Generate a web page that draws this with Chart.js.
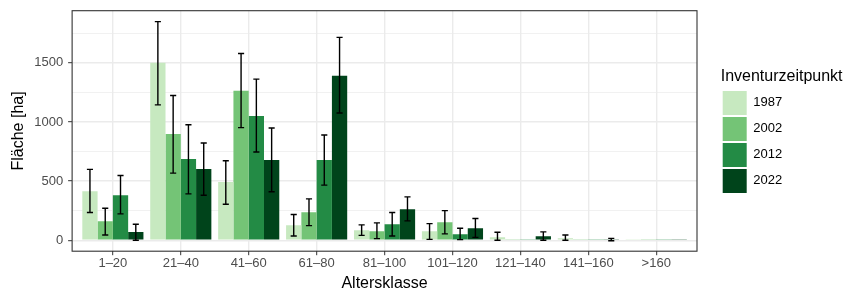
<!DOCTYPE html>
<html><head><meta charset="utf-8">
<script src="https://cdn.jsdelivr.net/npm/chart.js@4/dist/chart.umd.min.js"></script>
<style>html,body{margin:0;padding:0;background:#fff}#wrap{width:848px;height:288px}</style>
</head><body><div id="wrap"><canvas id="c" width="848" height="288"></canvas></div>
<script>
const categories = ['1–20','21–40','41–60','61–80','81–100','101–120','121–140','141–160','>160'];
const years = ['1987','2002','2012','2022'];
const colors = ['#C7E9C0','#74C476','#238B45','#00441B'];

const v1987 = [415, 1500, 492, 127, 85, 76, 25, 17, 9];
const v2002 = [161, 898, 1263, 237, 76, 153, 9, 9, 9];
const v2012 = [381, 686, 1051, 678, 136, 51, 9, 9, 9];
const v2022 = [70, 602, 678, 1390, 263, 102, 34, 8, 9];

const lo1987 = [235, 1144, 305, 37, 42, 8, 0, 0, null];
const hi1987 = [599, 1848, 672, 218, 130, 141, 68, 45, null];
const lo2002 = [45, 568, 952, 124, 14, 54, null, null, null];
const hi2002 = [271, 1223, 1579, 350, 147, 251, null, null, null];
const lo2012 = [223, 392, 746, 466, 37, 6, null, null, null];
const hi2012 = [548, 977, 1362, 890, 235, 102, null, null, null];
const lo2022 = [0, 381, 410, 1076, 164, 25, 0, -4, null];
const hi2022 = [136, 822, 949, 1715, 367, 184, 71, 16, null];

const yMajorTicks = [0, 500, 1000, 1500];
const yMinorTicks = [250, 750, 1250, 1750];

const values = [v1987, v2002, v2012, v2022];
const lows = [lo1987, lo2002, lo2012, lo2022];
const highs = [hi1987, hi2002, hi2012, hi2022];

Chart.defaults.font.family = '"Liberation Sans", Arial, sans-serif';

const datasets = years.map((y, k) => ({
  label: y,
  data: values[k].map((v, i) => ({x: i + 1, y: v})),
  errLo: lows[k],
  errHi: highs[k],
  backgroundColor: colors[k],
  borderWidth: 0,
  categoryPercentage: 0.9,
  barPercentage: 1.0
}));

const errorBars = {
  id: 'errorBars',
  afterDatasetsDraw(chart) {
    const ctx = chart.ctx, ys = chart.scales.y;
    ctx.save();
    ctx.strokeStyle = '#000';
    ctx.lineWidth = 1.4;
    chart.data.datasets.forEach((ds, di) => {
      const meta = chart.getDatasetMeta(di);
      meta.data.forEach((bar, i) => {
        const lo = ds.errLo[i], hi = ds.errHi[i];
        if (lo == null || hi == null) return;
        const x = bar.x, w = bar.width * 0.4;
        const yl = ys.getPixelForValue(lo), yh = ys.getPixelForValue(hi);
        ctx.beginPath();
        ctx.moveTo(x, yl); ctx.lineTo(x, yh);
        ctx.moveTo(x - w / 2, yl); ctx.lineTo(x + w / 2, yl);
        ctx.moveTo(x - w / 2, yh); ctx.lineTo(x + w / 2, yh);
        ctx.stroke();
      });
    });
    ctx.restore();
  }
};

const panelBorder = {
  id: 'panelBorder',
  afterDraw(chart) {
    const a = chart.chartArea, ctx = chart.ctx;
    ctx.save();
    ctx.strokeStyle = '#333333';
    ctx.lineWidth = 1.1;
    ctx.strokeRect(a.left, a.top, a.right - a.left, a.bottom - a.top);
    ctx.restore();
  }
};

// widen the legend box so its title is not clipped
const legendWidth = {
  id: 'legendWidth',
  beforeLayout(chart) {
    const lg = chart.legend;
    if (lg && !lg._wPatched) {
      const f = lg.fit.bind(lg);
      lg.fit = function () { f(); this.width = 125; };
      lg._wPatched = true;
    }
  }
};

new Chart(document.getElementById('c'), {
  type: 'bar',
  data: {datasets},
  plugins: [legendWidth, errorBars, panelBorder],
  options: {
    responsive: false,
    animation: false,
    layout: {padding: {left: 6.4, top: 10.7, right: 2.3, bottom: -3.2}},
    plugins: {
      tooltip: {enabled: false},
      legend: {
        position: 'right',
        align: 'start',
        title: {display: true, text: 'Inventurzeitpunkt', color: '#000', font: {size: 16}, position: 'start', padding: {top: 58, bottom: 1}},
        labels: {boxWidth: 24, boxHeight: 24, padding: 2, color: '#000', font: {size: 13}}
      }
    },
    scales: {
      x: {
        type: 'linear', min: 0.4, max: 9.6, offset: false,
        afterBuildTicks: s => { s.ticks = categories.map((c, i) => ({value: i + 1})); },
        grid: {offset: false, color: '#EBEBEB', lineWidth: 1.4, tickColor: '#333333', tickLength: 4, tickWidth: 1},
        border: {display: false},
        ticks: {callback: (v, i) => categories[i], color: '#4D4D4D', font: {size: 13}, padding: 0.7, maxRotation: 0, autoSkip: false},
        title: {display: true, text: 'Altersklasse', color: '#000', font: {size: 16, lineHeight: 1}, padding: {top: 3, bottom: 0}}
      },
      y: {
        min: -92, max: 1940,
        afterBuildTicks: s => { s.ticks = yMajorTicks.concat(yMinorTicks).sort((a, b) => a - b).map(v => ({value: v})); },
        grid: {
          color: '#EBEBEB',
          lineWidth: c => yMajorTicks.includes(c.tick && c.tick.value) ? 1.4 : 0.7,
          tickColor: c => yMajorTicks.includes(c.tick && c.tick.value) ? '#333333' : 'rgba(0,0,0,0)',
          tickLength: 4, tickWidth: 1
        },
        border: {display: false},
        ticks: {callback: v => yMajorTicks.includes(v) ? String(v) : '', color: '#4D4D4D', font: {size: 13, lineHeight: 0.8}, padding: 5, autoSkip: false},
        title: {display: true, text: 'Fläche [ha]', color: '#000', font: {size: 16}, padding: {top: 2.5, bottom: 1.1}}
      },
      pad: {
        axis: 'y', position: 'right', display: true,
        grid: {display: false, drawTicks: false},
        ticks: {display: false},
        border: {display: false},
        afterFit: s => { s.width = 23.7; }
      }
    }
  }
});
</script>
</body></html>
